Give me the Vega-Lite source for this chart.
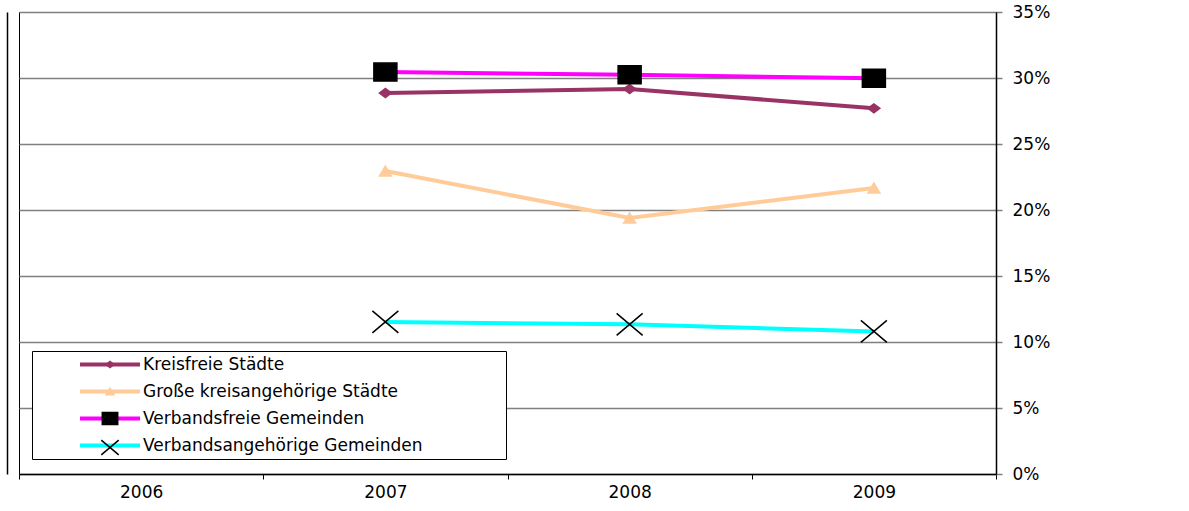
{
  "$schema": "https://vega.github.io/schema/vega-lite/v6.json",
  "width": 977,
  "height": 462,
  "autosize": {"type": "none"},
  "padding": {"left": 19, "top": 12, "right": 193, "bottom": 37},
  "background": "white",
  "config": {
    "font": "DejaVu Sans",
    "view": {"stroke": "#000", "strokeWidth": 1}
  },
  "data": {
    "values": [
      {"series": "Kreisfreie Städte", "year": "2007", "value": 0.2886},
      {"series": "Kreisfreie Städte", "year": "2008", "value": 0.2917},
      {"series": "Kreisfreie Städte", "year": "2009", "value": 0.2770},
      {"series": "Große kreisangehörige Städte", "year": "2007", "value": 0.2295},
      {"series": "Große kreisangehörige Städte", "year": "2008", "value": 0.1939},
      {"series": "Große kreisangehörige Städte", "year": "2009", "value": 0.2167},
      {"series": "Verbandsfreie Gemeinden", "year": "2007", "value": 0.3045},
      {"series": "Verbandsfreie Gemeinden", "year": "2008", "value": 0.3025},
      {"series": "Verbandsfreie Gemeinden", "year": "2009", "value": 0.2998},
      {"series": "Verbandsangehörige Gemeinden", "year": "2007", "value": 0.1152},
      {"series": "Verbandsangehörige Gemeinden", "year": "2008", "value": 0.1134},
      {"series": "Verbandsangehörige Gemeinden", "year": "2009", "value": 0.1080}
    ]
  },
  "resolve": {"axis": {"y": "independent"}},
  "encoding": {
    "x": {
      "field": "year", "type": "ordinal",
      "scale": {"domain": ["2006", "2007", "2008", "2009"], "paddingInner": 0, "paddingOuter": 0},
      "axis": {
        "title": null, "tickBand": "extent", "labelAngle": 0,
        "domainColor": "#000", "domainWidth": 1.5,
        "tickColor": "#000", "tickSize": 5, "tickWidth": 1,
        "labelFont": "DejaVu Sans", "labelFontSize": 17, "labelColor": "#000", "labelPadding": 5,
        "grid": false
      }
    }
  },
  "layer": [
    {
      "mark": {"type": "line", "strokeWidth": 4},
      "encoding": {
        "y": {
          "field": "value", "type": "quantitative",
          "scale": {"domain": [0, 0.35], "nice": false, "zero": true},
          "axis": {
            "orient": "right", "title": null, "values": [0, 0.05, 0.1, 0.15, 0.2, 0.25, 0.3, 0.35],
            "format": ".0%", "grid": true, "gridColor": "#808080", "gridWidth": 1.5,
            "domainColor": "#000", "domainWidth": 1.5,
            "tickColor": "#808080", "tickSize": 6, "tickWidth": 1.5,
            "labelFont": "DejaVu Sans", "labelFontSize": 17, "labelColor": "#000", "labelPadding": 10
          }
        },
        "color": {
          "field": "series", "type": "nominal",
          "sort": ["Kreisfreie Städte", "Große kreisangehörige Städte", "Verbandsfreie Gemeinden", "Verbandsangehörige Gemeinden"],
          "scale": {"range": ["#993366", "#FFCC99", "#FF00FF", "#00FFFF"]},
          "legend": {
            "orient": "none", "legendX": 13, "legendY": 339,
            "title": " ", "titleOrient": "right", "titlePadding": 78, "titleFontSize": 17,
            "symbolType": "M-6,0H6", "symbolStrokeWidth": 4, "symbolSize": 100,
            "symbolOffset": 64.5, "labelOffset": 24.5, "padding": 5, "rowPadding": 9,
            "strokeColor": "#000", "fillColor": "white",
            "labelFont": "DejaVu Sans", "labelFontSize": 17, "labelColor": "#000", "labelLimit": 400
          }
        }
      }
    },
    {
      "mark": {"type": "point", "filled": true, "size": 100, "strokeWidth": 1.5, "opacity": 1},
      "encoding": {
        "y": {
          "field": "value", "type": "quantitative",
          "axis": {
            "orient": "left", "offset": 12, "title": null, "labels": false, "ticks": false, "grid": false,
            "domainColor": "#000", "domainWidth": 1.5
          }
        },
        "shape": {
          "field": "series", "type": "nominal",
          "scale": {
            "domain": ["Kreisfreie Städte", "Große kreisangehörige Städte", "Verbandsfreie Gemeinden", "Verbandsangehörige Gemeinden"],
            "range": [
              "M-1.2,0L0,-0.9L1.2,0L0,0.9Z",
              "M0,-1L1.2,1L-1.2,1Z",
              "M-2.3,-1.8L2.3,-1.8L2.3,1.8L-2.3,1.8Z",
              "M-2.6,-2.2L2.6,2.2M-2.6,2.2L2.6,-2.2"
            ]
          },
          "legend": {
            "orient": "none", "legendX": 13, "legendY": 339, "title": null,
            "symbolSize": 45, "symbolStrokeWidth": 1.5, "symbolOffset": 64.5,
            "padding": 5, "rowPadding": 9, "labelExpr": "''",
            "labelFont": "DejaVu Sans", "labelFontSize": 17, "labelLimit": 400
          }
        },
        "fill": {
          "field": "series", "type": "nominal",
          "scale": {
            "domain": ["Kreisfreie Städte", "Große kreisangehörige Städte", "Verbandsfreie Gemeinden", "Verbandsangehörige Gemeinden"],
            "range": ["#993366", "#FFCC99", "#000000", "transparent"]
          },
          "legend": {
            "orient": "none", "legendX": 13, "legendY": 339, "title": null,
            "symbolSize": 45, "symbolStrokeWidth": 1.5, "symbolOffset": 64.5,
            "padding": 5, "rowPadding": 9, "labelExpr": "''",
            "labelFont": "DejaVu Sans", "labelFontSize": 17, "labelLimit": 400
          }
        },
        "stroke": {
          "field": "series", "type": "nominal",
          "scale": {
            "domain": ["Kreisfreie Städte", "Große kreisangehörige Städte", "Verbandsfreie Gemeinden", "Verbandsangehörige Gemeinden"],
            "range": ["#993366", "#FFCC99", "#000000", "#000000"]
          },
          "legend": {
            "orient": "none", "legendX": 13, "legendY": 339, "title": null,
            "symbolSize": 45, "symbolStrokeWidth": 1.5, "symbolOffset": 64.5,
            "padding": 5, "rowPadding": 9, "labelExpr": "''",
            "labelFont": "DejaVu Sans", "labelFontSize": 17, "labelLimit": 400
          }
        }
      }
    }
  ]
}
